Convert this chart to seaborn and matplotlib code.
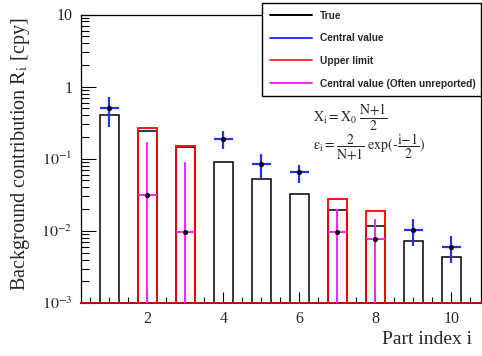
import numpy as np
import pandas as pd
import matplotlib
matplotlib.use("Agg")
import matplotlib.pyplot as plt
from matplotlib.lines import Line2D
from matplotlib.ticker import FixedLocator, FixedFormatter, LogLocator, MultipleLocator, NullFormatter
import seaborn as sns

# ---------------- data ----------------
part_index = [1, 2, 3, 4, 5, 6, 7, 8, 9, 10]
true_value = [0.40, 0.243, 0.147, 0.089, 0.053, 0.032, 0.0196, 0.0117, 0.0072, 0.0043]

upper_idx = [2, 3, 7, 8]
upper_limit = [0.263, 0.150, 0.0281, 0.0189]

central_idx = [1, 4, 5, 6, 9, 10]
central_val = [0.50, 0.19, 0.085, 0.0645, 0.0103, 0.0060]
central_lo = [0.275, 0.138, 0.054, 0.046, 0.0062, 0.0036]
central_hi = [0.71, 0.239, 0.116, 0.083, 0.0145, 0.0085]

unrep_idx = [2, 3, 7, 8]
unrep_val = [0.0316, 0.0096, 0.0097, 0.0078]
unrep_lo = [0.0, 0.0, 0.0, 0.0]
unrep_hi = [0.172, 0.091, 0.0204, 0.0145]

legend_labels = ["True", "Central value", "Upper limit", "Central value (Often unreported)"]
ytick_vals = [1e-3, 1e-2, 1e-1, 1, 10]
ytick_labels = [r"$10^{-3}$", r"$10^{-2}$", r"$10^{-1}$", "1", "10"]

# ---------------- style ----------------
sns.set_theme(style="ticks")
plt.rcParams["font.family"] = ["Liberation Serif", "DejaVu Serif"]
plt.rcParams["mathtext.fontset"] = "stix"

fig = plt.figure(figsize=(4.82, 3.56), dpi=100)
ax = fig.add_axes([81 / 482, 1 - 303 / 356, 400 / 482, 288.5 / 356])
ax.set_yscale("log")

df_true = pd.DataFrame({"i": part_index, "v": true_value})
df_up = pd.DataFrame({"i": upper_idx, "v": upper_limit})

sns.barplot(data=df_true, x="i", y="v", native_scale=True, width=0.5, fill=False,
            edgecolor="black", linewidth=1.1, ax=ax, errorbar=None, zorder=2)
sns.barplot(data=df_up, x="i", y="v", native_scale=True, width=0.5, fill=False,
            edgecolor="#ff0000", linewidth=1.3, ax=ax, errorbar=None, zorder=3)

cv = np.array(central_val)
ax.errorbar(central_idx, cv, xerr=0.25,
            yerr=[cv - np.array(central_lo), np.array(central_hi) - cv],
            fmt="none", ecolor="#2233ff", elinewidth=1.6, capsize=0, zorder=4)
uv = np.array(unrep_val)
lo = np.clip(np.array(unrep_lo), 1e-6, None)
ax.errorbar(unrep_idx, uv, xerr=0.25,
            yerr=[uv - lo, np.array(unrep_hi) - uv],
            fmt="none", ecolor="#ff22ff", elinewidth=1.4, capsize=0, zorder=4)
sns.scatterplot(x=central_idx + unrep_idx, y=central_val + unrep_val, ax=ax,
                color="black", marker="o", s=14, edgecolor="black", linewidth=0, zorder=5)

ax.set_xlim(0.25, 10.78)
ax.set_ylim(1e-3, 10)

ax.xaxis.set_major_locator(FixedLocator([2, 4, 6, 8, 10]))
ax.xaxis.set_minor_locator(MultipleLocator(0.5))
ax.yaxis.set_major_locator(FixedLocator(ytick_vals))
ax.yaxis.set_major_formatter(FixedFormatter(ytick_labels))
ax.yaxis.set_minor_locator(LogLocator(base=10, subs=np.arange(2, 10)))
ax.yaxis.set_minor_formatter(NullFormatter())

ax.tick_params(axis="both", which="both", direction="in", top=False, right=False,
               labelsize=11.5, color="black", width=0.8)
ax.tick_params(axis="y", which="major", length=11, pad=6)
ax.tick_params(axis="y", which="minor", length=6)
ax.tick_params(axis="x", which="major", length=8, pad=6)
ax.tick_params(axis="x", which="minor", length=4)
for s in ax.spines.values():
    s.set_color("black")
    s.set_linewidth(0.9)
ax.spines["bottom"].set_color("#c00000")
ax.spines["bottom"].set_linewidth(1.4)

ax.set_xlabel("")
ax.set_ylabel("")
fig.text(472 / 482, 1 - 340 / 356, "Part index i", ha="right", va="center", fontsize=14)
fig.text(21 / 482, 1 - 154 / 356, r"Background contribution R$_{\mathrm{i}}$ [cpy]",
         rotation=90, ha="center", va="center", fontsize=14.5)

ax.text(313 / 482, 1 - 117 / 356, r"$\mathrm{X_i = X_0\ \dfrac{N{+}1}{2}}$",
        transform=fig.transFigure, ha="left", va="center", fontsize=10)
ax.text(313 / 482, 1 - 147 / 356, r"$\mathrm{\varepsilon_i = \dfrac{2}{N{+}1}\ exp(\text{-}\dfrac{i{-}1}{2})}$",
        transform=fig.transFigure, ha="left", va="center", fontsize=10)

handles = [Line2D([], [], color=c, lw=1.4) for c in ["black", "#2233ff", "#ff3333", "#ff22ff"]]
leg = fig.legend(handles, legend_labels, loc="upper left",
                 bbox_to_anchor=(262 / 482, 1 - 97 / 356, 219 / 482, 94 / 356),
                 bbox_transform=fig.transFigure, mode="expand", borderaxespad=0,
                 prop={"family": "Liberation Sans", "weight": "bold", "size": 7.3},
                 frameon=True, fancybox=False, edgecolor="black", framealpha=1,
                 handlelength=4.15, handletextpad=0.8, labelspacing=1.25, borderpad=0.75)
leg.get_frame().set_linewidth(1.0)

fig.savefig("out.png", dpi=100)
